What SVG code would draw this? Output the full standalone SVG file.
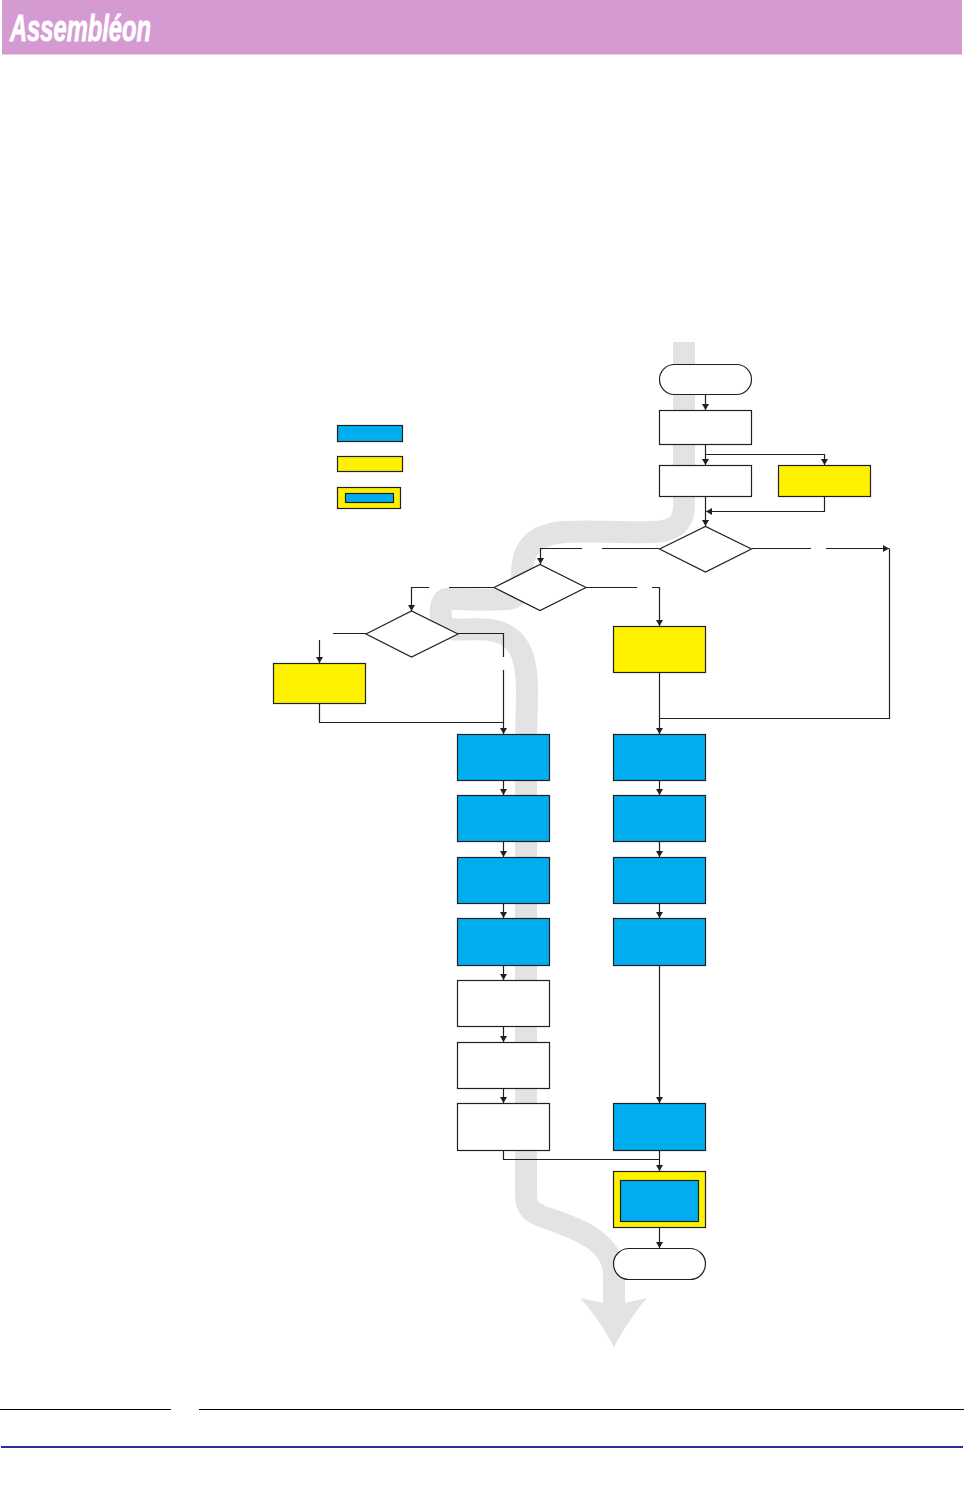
<svg xmlns="http://www.w3.org/2000/svg" width="965" height="1502" viewBox="0 0 965 1502">
<style>
.n{stroke:#231f20;stroke-width:1.2;fill:#fff}
.b{fill:#00aeef}
.y{fill:#fff200}
.c{fill:none;stroke:#231f20;stroke-width:1.2}
.a{marker-end:url(#ah)}
.band{fill:none;stroke:#e3e3e3;stroke-width:22}
</style>
<defs>
<marker id="ah" markerUnits="userSpaceOnUse" markerWidth="9" markerHeight="9" refX="7" refY="4.500" orient="auto"><path d="M1 1L7 4.500L1 8Z" fill="#231f20"/></marker>
</defs>
<rect width="965" height="1502" fill="#fff"/>
<g id="header">
<rect x="2" y="0" width="960" height="54.500" fill="#d59ad2"/>
<text x="10" y="41" font-family="'Liberation Sans',Arial,sans-serif" font-weight="700" font-style="italic" font-size="37" fill="#fff" stroke="#fff" stroke-width="0.8" textLength="141" lengthAdjust="spacingAndGlyphs">Assembléon</text>
</g>
<g id="flow-band">
<path class="band" d="M684 342V505C684 526 672 532 650 532C610 533 590 530 565 532C535 534 522 548 522 574C522 588 520 599 505 599C480 601 455 598 447 599C438 600 438 628 450 629C470 631 480 627 495 631C518 636 527 655 527 690C527 710 526 720 526 760V1195C526 1208 532 1212 541 1216C575 1228 614 1240 614 1275V1305"/>
<path d="M580 1298L603 1303H625L647 1298C633 1314 622 1332 614 1347C606 1332 595 1314 580 1298Z" fill="#e3e3e3"/>
</g>
<g id="legend">
<rect class="n b" x="337.500" y="425.500" width="65" height="16"/>
<rect class="n y" x="337.500" y="456.500" width="65" height="15"/>
<rect class="n y" x="337.500" y="487.500" width="63" height="21"/>
<rect class="n b" x="345.500" y="493.500" width="48" height="9"/>
</g>
<g id="connectors">
<path class="c a" d="M705.500 394.500V410"/>
<path class="c a" d="M705.500 444.500V465"/>
<path class="c a" d="M705.500 454.500H824.500V465"/>
<path class="c a" d="M824.500 496.500V511.500H706"/>
<path class="c a" d="M705.500 496.500V526"/>
<path class="c" d="M659 548.500H602"/>
<path class="c a" d="M582 548.500H540.500V564"/>
<path class="c" d="M752 548.500H811"/>
<path class="c a" d="M826 548.500H889"/>
<path class="c" d="M889.500 548.500V718.500H659.500"/>
<path class="c" d="M586 587.500H637"/>
<path class="c a" d="M652 587.500H659.500V626"/>
<path class="c" d="M494 587.500H449"/>
<path class="c a" d="M429 587.500H411.500V611"/>
<path class="c" d="M366 633.500H333"/>
<path class="c a" d="M319.500 640V663"/>
<path class="c" d="M458 633.500H503.500V657"/>
<path class="c a" d="M503.500 670V734"/>
<path class="c" d="M319.500 703.500V722.500H503.500"/>
<path class="c a" d="M659.500 672.500V734"/>
<path class="c a" d="M503.500 780.500V795"/>
<path class="c a" d="M503.500 841.500V857"/>
<path class="c a" d="M503.500 903.500V918"/>
<path class="c a" d="M503.500 965.500V980"/>
<path class="c a" d="M503.500 1026.500V1042"/>
<path class="c a" d="M503.500 1088.500V1103"/>
<path class="c" d="M503.500 1150.500V1159.500H659.500"/>
<path class="c a" d="M659.500 780.500V795"/>
<path class="c a" d="M659.500 841.500V857"/>
<path class="c a" d="M659.500 903.500V918"/>
<path class="c a" d="M659.500 965.500V1103"/>
<path class="c a" d="M659.500 1150.500V1171"/>
<path class="c a" d="M659.500 1227.500V1248"/>
</g>
<g id="start"><rect class="n" x="659.500" y="364.500" width="92" height="30" rx="15"/></g>
<g id="step1"><rect class="n" x="659.500" y="410.500" width="92" height="34"/></g>
<g id="step2"><rect class="n" x="659.500" y="465.500" width="92" height="31"/></g>
<g id="opt1"><rect class="n y" x="778.500" y="465.500" width="92" height="31"/></g>
<g id="dec1"><path class="n" d="M659.500 549L705.500 526.500L751.500 549L705.500 572Z"/></g>
<g id="dec2"><path class="n" d="M494 587.500L540 564.500L586 587.500L540 610.500Z"/></g>
<g id="dec3"><path class="n" d="M366 634L411.500 611L458 634L411.500 657Z"/></g>
<g id="opt2"><rect class="n y" x="613.500" y="626.500" width="92" height="46"/></g>
<g id="opt3"><rect class="n y" x="273.500" y="663.500" width="92" height="40"/></g>
<g id="l1"><rect class="n b" x="457.500" y="734.500" width="92" height="46"/></g>
<g id="l2"><rect class="n b" x="457.500" y="795.500" width="92" height="46"/></g>
<g id="l3"><rect class="n b" x="457.500" y="857.500" width="92" height="46"/></g>
<g id="l4"><rect class="n b" x="457.500" y="918.500" width="92" height="47"/></g>
<g id="l5"><rect class="n" x="457.500" y="980.500" width="92" height="46"/></g>
<g id="l6"><rect class="n" x="457.500" y="1042.500" width="92" height="46"/></g>
<g id="l7"><rect class="n" x="457.500" y="1103.500" width="92" height="47"/></g>
<g id="r1"><rect class="n b" x="613.500" y="734.500" width="92" height="46"/></g>
<g id="r2"><rect class="n b" x="613.500" y="795.500" width="92" height="46"/></g>
<g id="r3"><rect class="n b" x="613.500" y="857.500" width="92" height="46"/></g>
<g id="r4"><rect class="n b" x="613.500" y="918.500" width="92" height="47"/></g>
<g id="r5"><rect class="n b" x="613.500" y="1103.500" width="92" height="47"/></g>
<g id="both"><rect class="n y" x="613.500" y="1171.500" width="92" height="56"/><rect class="n b" x="620.500" y="1180.500" width="78" height="41"/></g>
<g id="end"><rect class="n" x="613.500" y="1248.500" width="92" height="31" rx="15.500"/></g>
<g id="footer">
<path d="M0 1409.500H171M199 1409.500H964" stroke="#000" stroke-width="1.100" fill="none"/>
<path d="M1 1447H963" stroke="#2e3192" stroke-width="2" fill="none"/>
</g>
</svg>
